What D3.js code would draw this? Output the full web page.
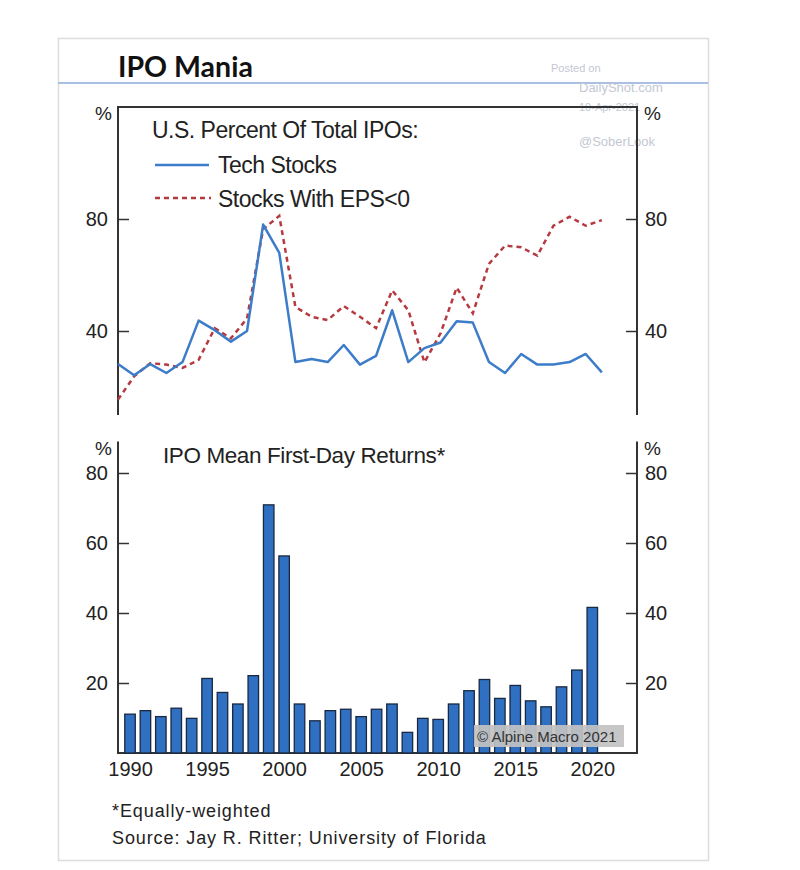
<!DOCTYPE html>
<html><head><meta charset="utf-8">
<script src="https://cdn.jsdelivr.net/npm/d3@7"></script>
<style>body{margin:0;background:#fff}svg{display:block}text{font-family:"Liberation Sans",Arial,sans-serif}</style>
</head><body><svg id="c" width="800" height="870"></svg>
<script>
const years = d3.range(1990, 2021);
const techStocks = [28.2,24.2,28.2,25,28.9,43.7,40.3,36.2,40,78,67.9,28.9,30,28.9,35,28,31.1,47.4,28.9,33.9,35.9,43.5,43,28.9,25,31.8,28,28,28.9,31.8,25.2];
const epsNegative = [15.5,23.8,28.5,28,26.8,29.7,41,37.4,44.5,76.4,81.1,48.6,45.1,43.9,48.9,45.1,41,54.5,47.4,28.8,39.2,55.5,46.3,64,70.5,69.9,66.9,77.6,80.8,77.6,79.6];
const firstDayReturns = [11.1,12.1,10.4,12.8,9.9,21.3,17.3,14,22.1,70.9,56.3,14,9.2,12.1,12.5,10.4,12.5,14,5.9,9.9,9.6,14,17.8,21,15.6,19.3,14.9,13.2,18.9,23.7,41.6];
const topTicks = [40, 80];
const bottomTicks = [20, 40, 60, 80];
const xTickYears = [1990, 1995, 2000, 2005, 2010, 2015, 2020];

const svg = d3.select("#c");
const L = 118, R = 637;
const axisCol = "#333";

// frame
svg.append("rect").attr("x",58.5).attr("y",38.5).attr("width",650).attr("height",822)
  .attr("fill","#fff").attr("stroke","#dcdcdc").attr("stroke-width",1.5);
svg.append("line").attr("x1",58).attr("x2",708).attr("y1",83).attr("y2",83)
  .attr("stroke","#a9c0e2").attr("stroke-width",2);
svg.append("text").attr("x",118).attr("y",77).text("IPO Mania")
  .style("font-family","Lato,sans-serif").attr("font-weight","bold").attr("font-size",28.5).attr("fill","#111");

// watermark
const wm = svg.append("g").attr("fill","#c3c8d3");
wm.append("text").attr("x",551).attr("y",72).attr("font-size",11).text("Posted on");
wm.append("text").attr("x",579).attr("y",92).attr("font-size",13).text("DailyShot.com");
wm.append("text").attr("x",579).attr("y",111).attr("font-size",11).text("10-Apr-2021");
wm.append("text").attr("x",579).attr("y",146).attr("font-size",13).text("@SoberLook");

// ---------- top panel
const xTop = d3.scaleLinear().domain([1990, 2022.18]).range([L, R]);
const yTop = d3.scaleLinear().domain([10, 120]).range([415, 107]);
const gT = svg.append("g");
gT.append("path").attr("d",`M${L},${yTop(10)}V${yTop(120)}H${R}V${yTop(10)}`)
  .attr("fill","none").attr("stroke",axisCol).attr("stroke-width",2);
const leftT = d3.axisRight(yTop).tickValues(topTicks).tickSize(11).tickFormat("");
const rightT = d3.axisLeft(yTop).tickValues(topTicks).tickSize(11).tickFormat("");
gT.append("g").attr("transform",`translate(${L},0)`).call(leftT).call(g=>g.select(".domain").remove())
  .selectAll("line").attr("stroke",axisCol).attr("stroke-width",1.5);
gT.append("g").attr("transform",`translate(${R},0)`).call(rightT).call(g=>g.select(".domain").remove())
  .selectAll("line").attr("stroke",axisCol).attr("stroke-width",1.5);
topTicks.forEach(t=>{
  gT.append("text").attr("x",108).attr("y",yTop(t)+7).attr("text-anchor","end").attr("font-size",20).attr("fill","#222").text(t);
  gT.append("text").attr("x",645).attr("y",yTop(t)+7).attr("font-size",20).attr("fill","#222").text(t);
});
gT.append("text").attr("x",95).attr("y",120).attr("font-size",19).attr("fill","#222").text("%");
gT.append("text").attr("x",644).attr("y",120).attr("font-size",19).attr("fill","#222").text("%");

const lineT = d3.line().x((d,i)=>xTop(years[i])).y(d=>yTop(d));
gT.append("path").datum(epsNegative).attr("d",lineT).attr("fill","none")
  .attr("stroke","#b53a40").attr("stroke-width",2.5).attr("stroke-dasharray","5,4");
gT.append("path").datum(techStocks).attr("d",lineT).attr("fill","none")
  .attr("stroke","#3d7cc9").attr("stroke-width",2.5).attr("stroke-linejoin","round");

// legend
gT.append("text").attr("x",152).attr("y",138).attr("font-size",23).attr("fill","#222").attr("letter-spacing",-0.5).text("U.S. Percent Of Total IPOs:");
gT.append("line").attr("x1",155).attr("x2",209).attr("y1",165).attr("y2",165).attr("stroke","#3d7cc9").attr("stroke-width",2.5);
gT.append("text").attr("x",218).attr("y",173).attr("font-size",23).attr("fill","#222").attr("letter-spacing",-0.5).text("Tech Stocks");
gT.append("line").attr("x1",155).attr("x2",211).attr("y1",198).attr("y2",198).attr("stroke","#b53a40").attr("stroke-width",2.5).attr("stroke-dasharray","5,4");
gT.append("text").attr("x",218).attr("y",207).attr("font-size",23).attr("fill","#222").attr("letter-spacing",-0.5).text("Stocks With EPS<0");

// ---------- bottom panel
const xB = d3.scaleLinear().domain([1989.22, 2022.9]).range([L, R]);
const yB = d3.scaleLinear().domain([0, 80]).range([753, 473]);
const gB = svg.append("g");
gB.append("path").attr("d",`M${L},${yB(89)}V${yB(0)}H${R}V${yB(89)}`)
  .attr("fill","none").attr("stroke",axisCol).attr("stroke-width",2);
gB.append("g").attr("transform",`translate(${L},0)`).call(d3.axisRight(yB).tickValues(bottomTicks).tickSize(11).tickFormat(""))
  .call(g=>g.select(".domain").remove()).selectAll("line").attr("stroke",axisCol).attr("stroke-width",1.5);
gB.append("g").attr("transform",`translate(${R},0)`).call(d3.axisLeft(yB).tickValues(bottomTicks).tickSize(11).tickFormat(""))
  .call(g=>g.select(".domain").remove()).selectAll("line").attr("stroke",axisCol).attr("stroke-width",1.5);
bottomTicks.forEach(t=>{
  gB.append("text").attr("x",108).attr("y",yB(t)+7).attr("text-anchor","end").attr("font-size",20).attr("fill","#222").text(t);
  gB.append("text").attr("x",645).attr("y",yB(t)+7).attr("font-size",20).attr("fill","#222").text(t);
});
gB.append("text").attr("x",95).attr("y",455).attr("font-size",19).attr("fill","#222").text("%");
gB.append("text").attr("x",644).attr("y",455).attr("font-size",19).attr("fill","#222").text("%");
gB.append("text").attr("x",163).attr("y",463).attr("font-size",22.5).attr("fill","#222").attr("letter-spacing",-0.4).text("IPO Mean First-Day Returns*");

const bw = 10.5;
gB.selectAll("rect.bar").data(firstDayReturns).join("rect").attr("class","bar")
  .attr("x",(d,i)=>xB(years[i])-bw/2).attr("width",bw)
  .attr("y",d=>yB(d)).attr("height",d=>yB(0)-yB(d))
  .attr("fill","#2f70c2").attr("stroke","#1a2840").attr("stroke-width",1.3);

// x labels
gB.append("g").attr("transform",`translate(0,${yB(0)})`)
  .call(d3.axisBottom(xB).tickValues(xTickYears).tickSize(0).tickPadding(9).tickFormat(d3.format("d")))
  .call(g=>g.select(".domain").remove())
  .selectAll("text").attr("font-size",20).attr("fill","#222").style("font-family","'Liberation Sans',Arial,sans-serif");

// copyright
gB.append("rect").attr("x",474).attr("y",725).attr("width",150).attr("height",22).attr("fill","#c2c2c2").attr("opacity",0.92);
gB.append("text").attr("x",477).attr("y",742).attr("font-size",15).attr("fill","#333").text("© Alpine Macro 2021");

// footnotes
svg.append("text").attr("x",112).attr("y",817).attr("font-size",18).attr("fill","#222").attr("letter-spacing",0.9).text("*Equally-weighted");
svg.append("text").attr("x",112).attr("y",844).attr("font-size",18).attr("fill","#222").attr("letter-spacing",0.9).text("Source: Jay R. Ritter; University of Florida");
</script></body></html>
